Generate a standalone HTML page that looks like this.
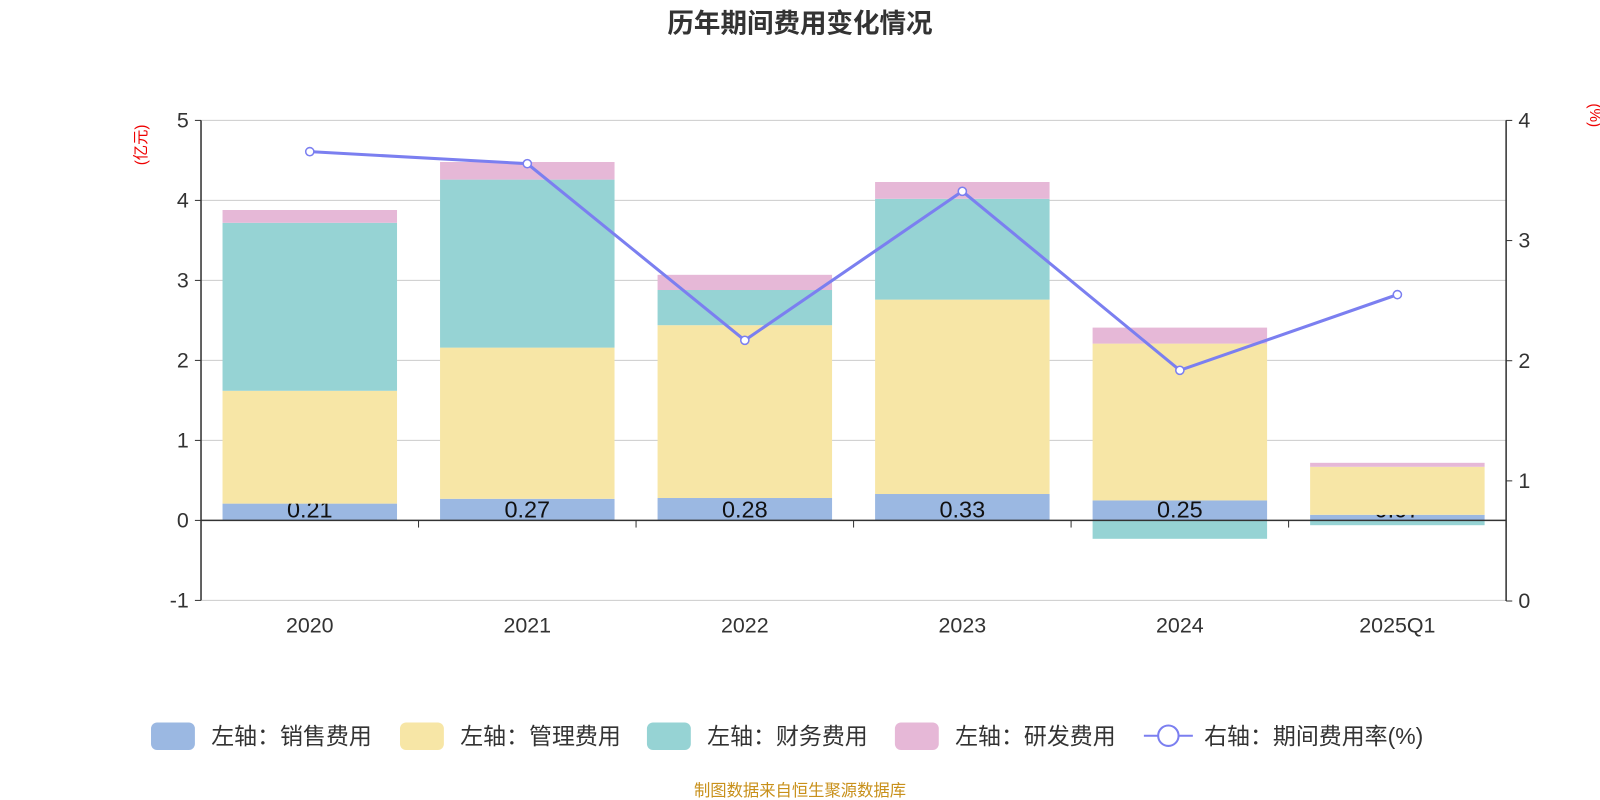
<!DOCTYPE html>
<html><head><meta charset="utf-8"><style>
html,body{margin:0;padding:0;background:#fff;}
svg{display:block;font-family:"Liberation Sans","Noto Sans CJK SC",sans-serif;}
</style></head><body>
<svg id="chart" width="1600" height="800" viewBox="0 0 1568 784" xmlns="http://www.w3.org/2000/svg">
<text x="784" y="32" text-anchor="middle" font-size="26" font-weight="bold" fill="#333">历年期间费用变化情况</text>
<text transform="translate(143,142) rotate(-90)" text-anchor="middle" font-size="15" fill="#e00">(亿元)</text>
<text transform="translate(1558,113) rotate(90)" text-anchor="middle" font-size="15" fill="#e00">(%)</text>
<g id="grid"></g><g id="bars"></g><g id="axes"></g><g id="line"></g>
<g id="legend"></g>
<text x="784" y="780" text-anchor="middle" font-size="16" fill="#c8901a">制图数据来自恒生聚源数据库</text>
</svg>
<script>
const categories=["2020","2021","2022","2023","2024","2025Q1"];
const sales=[0.21,0.27,0.28,0.33,0.25,0.07];
const admin=[1.41,1.89,2.16,2.43,1.96,0.60];
const finance=[2.10,2.10,0.44,1.26,-0.23,-0.06];
const rnd=[0.16,0.22,0.19,0.21,0.20,0.05];
const rate=[3.74,3.64,2.17,3.41,1.92,2.55];
const leftTicks=[-1,0,1,2,3,4,5];
const rightTicks=[0,1,2,3,4];
const NS="http://www.w3.org/2000/svg";
const X0=197,X1=1476,band=(X1-X0)/categories.length,bw=171;
const yL=v=>510-v*78.4;
const yR=v=>589-v*117.75;
const xc=i=>X0+band*(i+0.5);
function mk(tag,attrs,parent,text){const e=document.createElementNS(NS,tag);for(const k in attrs)e.setAttribute(k,attrs[k]);if(text!=null)e.textContent=text;document.getElementById(parent)?document.getElementById(parent).appendChild(e):parent.appendChild(e);return e;}
leftTicks.forEach(t=>{
  if(t!==0){const g=mk('line',{x1:X0,x2:X1,y1:yL(t),y2:yL(t),stroke:'#ccc','stroke-width':1},'grid');
  
  }
  const l=mk('text',{x:X0-12,y:yL(t)+7,'text-anchor':'end','font-size':21,fill:'#333'},'axes',String(t));
  
  
  mk('line',{x1:X0-6,x2:X0,y1:yL(t),y2:yL(t),stroke:'#333'},'axes');
});
rightTicks.forEach(t=>{
  const l=mk('text',{x:X1+12,y:yR(t)+7,'font-size':21,fill:'#333'},'axes',String(t));
  
  
  mk('line',{x1:X1,x2:X1+6,y1:yR(t),y2:yR(t),stroke:'#333'},'axes');
});
mk('line',{x1:X0,x2:X0,y1:yL(5),y2:yL(-1),stroke:'#333','stroke-width':1.5},'axes');
mk('line',{x1:X1,x2:X1,y1:yR(4),y2:yR(0),stroke:'#333','stroke-width':1.5},'axes');
mk('line',{x1:X0,x2:X1,y1:yL(0),y2:yL(0),stroke:'#333','stroke-width':1.5},'axes');
for(let i=0;i<=categories.length;i++)mk('line',{x1:X0+band*i,x2:X0+band*i,y1:yL(0),y2:yL(0)+7,stroke:'#333'},'axes');
categories.forEach((c,i)=>{
  const l=mk('text',{x:xc(i),y:620,'text-anchor':'middle','font-size':21,fill:'#333'},'axes',c);
  
  
});
const series=[[sales,'#9bb8e2','sales-bar'],[admin,'#f7e6a6','admin-bar'],[finance,'#96d3d4','finance-bar'],[rnd,'#e6b8d7','rnd-bar']];
const defs=mk('defs',{},'chart');
categories.forEach((c,i)=>{
  let pos=0,neg=0;
  series.forEach(([arr,col,name],s)=>{
    const v=arr[i];let y0,y1;
    if(v>=0){y0=pos;y1=pos+v;pos=y1;}else{y0=neg;y1=neg+v;neg=y1;}
    const top=Math.min(yL(y0),yL(y1)),h=Math.abs(yL(y1)-yL(y0));
    const r=mk('rect',{x:xc(i)-bw/2,y:top,width:bw,height:h,fill:col},'bars');
    
    
    if(s===0){
      const cp=mk('clipPath',{id:'cp'+i},defs);
      mk('rect',{x:xc(i)-bw/2,y:top,width:bw,height:h},cp);
      const t=mk('text',{x:xc(i),y:yL(0)-3,'text-anchor':'middle','font-size':23,fill:'#111','clip-path':'url(#cp'+i+')'},'bars',v.toFixed(2));
      
      
    }
  });
});
const pts=rate.map((v,i)=>xc(i)+','+yR(v)).join(' ');
const pl=mk('polyline',{points:pts,fill:'none',stroke:'#7b7ff0','stroke-width':3},'line');


rate.forEach((v,i)=>{
  const c=mk('circle',{cx:xc(i),cy:yR(v),r:4,fill:'#fff',stroke:'#7b7ff0','stroke-width':1.5},'line');
  
  
});
const leg=[['#9bb8e2','左轴：销售费用',148],['#f7e6a6','左轴：管理费用',392],['#96d3d4','左轴：财务费用',634],['#e6b8d7','左轴：研发费用',877]];
leg.forEach(([col,txt,x])=>{
  const g=mk('g',{},'legend');
  
  
  mk('rect',{x:x,y:708,width:43,height:27,rx:6,fill:col},g);
  mk('text',{x:x+59,y:729,'font-size':22.5,fill:'#333'},g,txt);
});
const lg=mk('g',{},'legend');


mk('line',{x1:1121,x2:1169,y1:721,y2:721,stroke:'#7b7ff0','stroke-width':2},lg);
mk('circle',{cx:1145,cy:721,r:10,fill:'#fff',stroke:'#7b7ff0','stroke-width':2},lg);
mk('text',{x:1180,y:729,'font-size':22.5,fill:'#333'},lg,'右轴：期间费用率(%)');
</script>
</body></html>
